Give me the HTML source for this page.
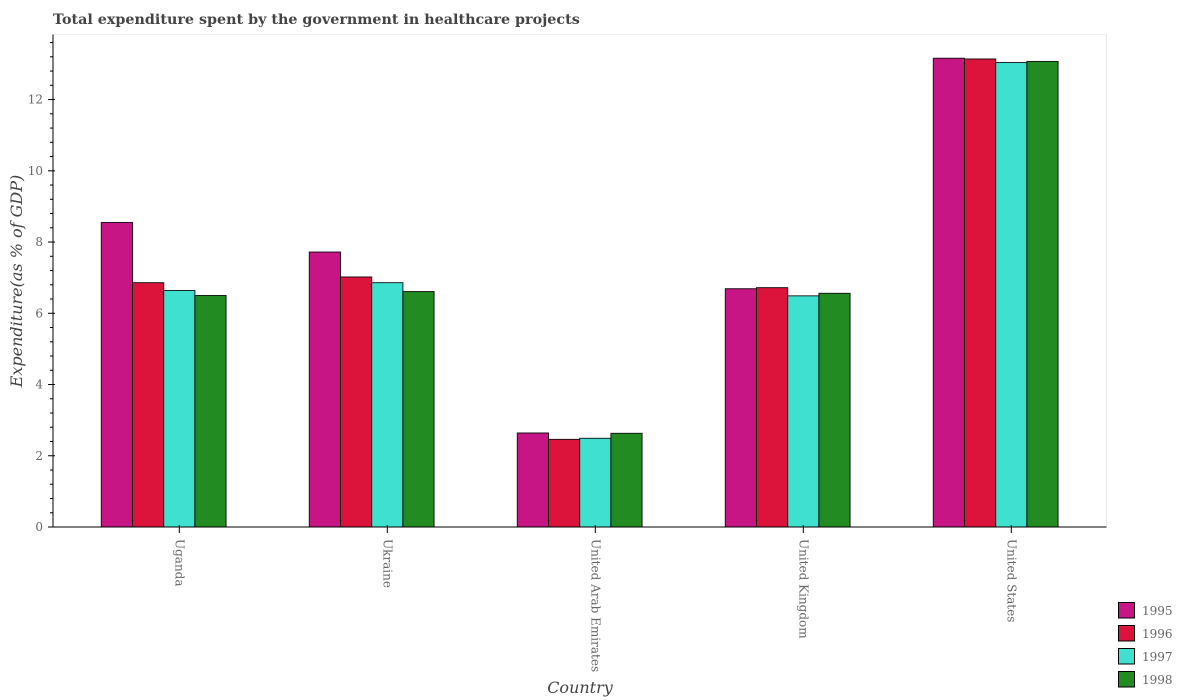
<!DOCTYPE html>
<html>
<head>
<meta charset="utf-8">
<style>
html,body{margin:0;padding:0;background:#fff;width:1179px;height:700px;overflow:hidden}
svg{display:block;font-family:"DejaVu Serif","Liberation Serif",serif}
</style>
</head>
<body>
<svg id="chart" width="1179" height="700" viewBox="0 0 1179 700" xmlns="http://www.w3.org/2000/svg">
<text x="53" y="24" font-size="14.3" font-weight="bold" fill="#444444">Total expenditure spent by the government in healthcare projects</text>
<line x1="53" y1="34.5" x2="1106.5" y2="34.5" stroke="#eeeeee" stroke-width="1"/>
<line x1="1106.5" y1="34.5" x2="1106.5" y2="527" stroke="#e6e6e6" stroke-width="1"/>
<text transform="translate(22,281) rotate(-90)" text-anchor="middle" font-size="16" font-style="italic" fill="#444444">Expenditure(as % of GDP)</text>
<text x="580" y="693" text-anchor="middle" font-size="16" font-style="italic" fill="#444444">Country</text>
<g id="bars"></g>
<g id="axes"></g>
<g id="legend"></g>
</svg>
<script>
var countries = ["Uganda", "Ukraine", "United Arab Emirates", "United Kingdom", "United States"];
var years = ["1995", "1996", "1997", "1998"];
var values1995 = [8.55, 7.72, 2.64, 6.69, 13.16];
var values1996 = [6.86, 7.02, 2.46, 6.72, 13.14];
var values1997 = [6.64, 6.86, 2.49, 6.49, 13.04];
var values1998 = [6.50, 6.61, 2.63, 6.56, 13.07];
var yTickLabels = [0, 2, 4, 6, 8, 10, 12];
var seriesColors = ["#c71585", "#dc143c", "#40e0d0", "#228b22"];

var NS = "http://www.w3.org/2000/svg";
var series = [values1995, values1996, values1997, values1998];
var plotLeft = 53, plotRight = 1106.5, plotTop = 34.5, plotBottom = 527;
var yMax = (plotBottom - plotTop) / 35.62;
var groupStep = 208, barWidth = 31.2, firstLeft = 101.3;

function yScale(v) { return plotBottom - (v / yMax) * (plotBottom - plotTop); }
function groupLeft(i) { return firstLeft + i * groupStep; }
function barX(i, s) { return groupLeft(i) + s * barWidth; }
function tickX(i) { return barX(i, 2) + barWidth / 2; }
function make(tag, attrs, parent) {
  var el = document.createElementNS(NS, tag);
  for (var k in attrs) el.setAttribute(k, attrs[k]);
  parent.appendChild(el);
  return el;
}

var barsG = document.getElementById("bars");
var axesG = document.getElementById("axes");
var legendG = document.getElementById("legend");

series.forEach(function (vals, s) {
  vals.forEach(function (v, i) {
    var r = make("rect", {
      x: barX(i, s), y: yScale(v), width: barWidth, height: plotBottom - yScale(v),
      fill: seriesColors[s], stroke: "#000000", "stroke-width": 1, "stroke-opacity": 0.85
    }, barsG);
    
    
  });
});

var yAxisLine = make("line", { x1: plotLeft, y1: plotTop, x2: plotLeft, y2: plotBottom, stroke: "#000000", "stroke-width": 1 }, axesG);



var xAxisLine = make("line", { x1: plotLeft, y1: plotBottom, x2: plotRight, y2: plotBottom, stroke: "#000000", "stroke-width": 1 }, axesG);



yTickLabels.forEach(function (t) {
  var tk = make("line", { x1: plotLeft - 5, y1: yScale(t), x2: plotLeft + 2, y2: yScale(t), stroke: "#000000", "stroke-width": 1 }, axesG);
  
  
  var lb = make("text", { x: plotLeft - 10, y: yScale(t) + 4, "text-anchor": "end", "font-size": 12, fill: "#666666" }, axesG);
  lb.textContent = String(t);
  
  
});

for (var m = 0; m * 0.4 <= yMax; m++) {
  if (m % 5 === 0) continue;
  var mv = m * 0.4;
  var mt = make("line", { x1: plotLeft - 3, y1: yScale(mv), x2: plotLeft, y2: yScale(mv), stroke: "#000000", "stroke-width": 1 }, axesG);
  
  
}

countries.forEach(function (c, i) {
  var x = tickX(i);
  var tk = make("line", { x1: x, y1: plotBottom - 2, x2: x, y2: plotBottom + 6, stroke: "#000000", "stroke-width": 1 }, axesG);
  
  
  var lb = make("text", { transform: "translate(" + (x - 4) + ",539) rotate(90)", "font-size": 12, fill: "#666666" }, axesG);
  lb.textContent = c;
  
  
});

years.forEach(function (yr, s) {
  var rowY = 602.5 + s * 23;
  var sw = make("rect", { x: 1118.5, y: rowY, width: 16, height: 15.5, fill: seriesColors[s], stroke: "#000000", "stroke-width": 1 }, legendG);
  
  
  var lb = make("text", { x: 1142, y: rowY + 12.5, "font-size": 12, fill: "#666666" }, legendG);
  lb.textContent = yr;
  
  
});
</script>
</body>
</html>
